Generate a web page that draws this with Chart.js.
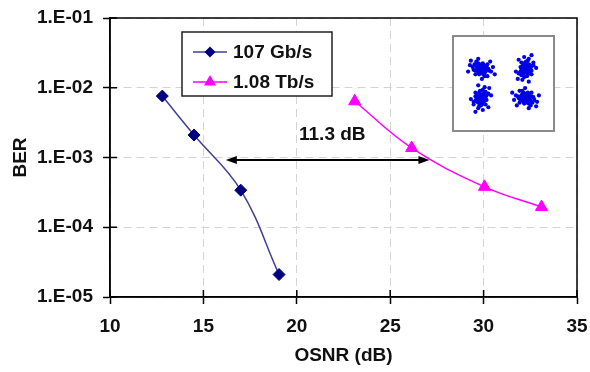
<!DOCTYPE html>
<html><head><meta charset="utf-8">
<script src="https://cdn.jsdelivr.net/npm/chart.js@4/dist/chart.umd.min.js"></script>
<style>
html,body{margin:0;padding:0;background:#fff;}
#wrap{position:relative;width:590px;height:372px;overflow:hidden;}
#main{position:absolute;left:0;top:0;}
#insetBox{position:absolute;left:452px;top:35px;width:103px;height:97px;box-sizing:border-box;border:2px solid #8a8a8a;background:#fff;}
#inset{display:block;}
</style></head><body>
<div id="wrap"><canvas id="main" width="590" height="372"></canvas>
<div id="insetBox"><canvas id="inset" width="99" height="93"></canvas></div></div>
<script>
// ---- data ----
const seriesNames = ['107 Gb/s', '1.08 Tb/s'];
const osnr107 = [12.8, 14.5, 17.0, 19.05];
const ber107  = [7.6e-3, 2.1e-3, 3.4e-4, 2.1e-5];
const osnr108 = [23.1, 26.15, 30.05, 33.1];
const ber108  = [6.4e-3, 1.37e-3, 3.8e-4, 1.95e-4];
const xTicks = [10, 15, 20, 25, 30, 35];
const yTicks = [1e-5, 1e-4, 1e-3, 1e-2, 1e-1];
const yTickLabels = ['1.E-05', '1.E-04', '1.E-03', '1.E-02', '1.E-01'];
const xTitle = 'OSNR (dB)';
const yTitle = 'BER';
const arrowOSNR = [16.2, 27.1];
const arrowBER = 9.2e-4;
const gapLabel = '11.3 dB';
const gapLabelPos = [21.9, 2.1e-3];
// inset constellation (QPSK-like clusters)
const constCenters = [[-24.5, 16], [24.5, 16], [-24.5, -16], [24.5, -16]];
const constFlips = [[1, 1], [-1, 1], [1, -1], [-1, -1]];
const constSwap = [false, true, true, false];
const constOffsets = [[0,0],[2,1],[-2,2],[3,-2],[-3,-1],[1,-3],[-1,3],[5,2],[-5,3],[3,4],[-3,-4],[4,-4],[8,0],[-8,-1],[2,6],[-2,-6],[7,5],[-7,5],[11,-3],[-12,4],[4,-8],[10,8],[-5,8],[2,2],[-1,-2],[4,0],[-4,0],[0,2],[0,-2],[6,-1],[-6,-6],[13,2],[-14,-3],[7,-8],[-3,11],[1,-11],[15,-6],[-11,9],[1,1],[-1,-1],[3,1],[-2,-3],[5,-3],[-4,2],[6,3],[-6,-2],[0,5],[1,-5],[9,-2],[-9,2],[3,-6],[-3,6]];

const FONT = '"Liberation Sans", Arial, sans-serif';
const BLUE_LINE = '#40409a', BLUE_PT = '#000080', MAG = '#ff00ff';

function drawMarker(ctx, style, cx, cy, r, color) {
  ctx.fillStyle = color;
  ctx.beginPath();
  if (style === 'rectRot') {
    ctx.moveTo(cx - r, cy); ctx.lineTo(cx, cy - r); ctx.lineTo(cx + r, cy); ctx.lineTo(cx, cy + r);
  } else {
    const w = r * Math.sqrt(3);
    ctx.moveTo(cx, cy - r); ctx.lineTo(cx + w / 2, cy + r / 2); ctx.lineTo(cx - w / 2, cy + r / 2);
  }
  ctx.closePath(); ctx.fill();
}

const extras = {
  id: 'extras',
  afterDatasetsDraw(c) {
    const {ctx, chartArea: a, scales: {x, y}} = c;
    ctx.save();
    ctx.strokeStyle = '#000'; ctx.lineWidth = 1.5;
    ctx.strokeRect(a.left, a.top, a.right - a.left, a.bottom - a.top);
    ctx.beginPath();
    xTicks.forEach(v => { const px = x.getPixelForValue(v); ctx.moveTo(px, a.bottom); ctx.lineTo(px, a.bottom - 7); });
    yTicks.forEach(v => { const py = y.getPixelForValue(v); ctx.moveTo(a.left, py); ctx.lineTo(a.left + 7, py); });
    ctx.stroke();
    // arrow
    const x1 = x.getPixelForValue(arrowOSNR[0]), x2 = x.getPixelForValue(arrowOSNR[1]), ay = y.getPixelForValue(arrowBER);
    ctx.lineWidth = 2; ctx.beginPath(); ctx.moveTo(x1 + 6, ay); ctx.lineTo(x2 - 6, ay); ctx.stroke();
    ctx.fillStyle = '#000';
    ctx.beginPath(); ctx.moveTo(x1, ay); ctx.lineTo(x1 + 11, ay - 4); ctx.lineTo(x1 + 11, ay + 4); ctx.closePath(); ctx.fill();
    ctx.beginPath(); ctx.moveTo(x2, ay); ctx.lineTo(x2 - 11, ay - 4); ctx.lineTo(x2 - 11, ay + 4); ctx.closePath(); ctx.fill();
    ctx.fillStyle = '#111';
    ctx.font = 'bold 19px ' + FONT; ctx.textAlign = 'center'; ctx.textBaseline = 'middle';
    ctx.fillText(gapLabel, x.getPixelForValue(gapLabelPos[0]), y.getPixelForValue(gapLabelPos[1]));
    // legend
    const bx = a.left + 72, by = a.top + 14, bw = 150, bh = 64;
    ctx.fillStyle = '#fff'; ctx.fillRect(bx, by, bw, bh);
    ctx.strokeStyle = '#222'; ctx.lineWidth = 1.5; ctx.strokeRect(bx, by, bw, bh);
    const ds = c.data.datasets;
    ds.forEach((d, i) => {
      const ry = by + 20 + i * 30;
      ctx.strokeStyle = d.borderColor; ctx.lineWidth = 1.5;
      ctx.beginPath(); ctx.moveTo(bx + 11, ry); ctx.lineTo(bx + 45, ry); ctx.stroke();
      drawMarker(ctx, d.pointStyle, bx + 28, ry, d.pointStyle === 'rectRot' ? 5.5 : 7, d.pointBackgroundColor);
      ctx.fillStyle = '#111'; ctx.textAlign = 'left'; ctx.textBaseline = 'middle';
      ctx.font = 'bold 19px ' + FONT;
      ctx.fillText(d.label, bx + 51, ry + 1);
    });
    ctx.restore();
  }
};

new Chart(document.getElementById('main'), {
  type: 'line',
  data: {
    datasets: [
      { label: seriesNames[0], data: osnr107.map((v, i) => ({x: v, y: ber107[i]})),
        borderColor: BLUE_LINE, backgroundColor: BLUE_PT, pointBackgroundColor: BLUE_PT, pointBorderColor: BLUE_PT,
        pointStyle: 'rectRot', pointRadius: 6, pointBorderWidth: 1, borderWidth: 1.5, tension: 0.4, fill: false },
      { label: seriesNames[1], data: osnr108.map((v, i) => ({x: v, y: ber108[i]})),
        borderColor: MAG, backgroundColor: MAG, pointBackgroundColor: MAG, pointBorderColor: MAG,
        pointStyle: 'triangle', pointRadius: 7, pointBorderWidth: 1, borderWidth: 1.5, tension: 0.4, fill: false }
    ]
  },
  options: {
    responsive: false, animation: false,
    layout: { padding: { left: 0, top: 18, right: 13, bottom: 0 } },
    plugins: { legend: { display: false }, tooltip: { enabled: false } },
    scales: {
      x: {
        type: 'linear', min: 10, max: 35,
        afterBuildTicks: s => { s.ticks = xTicks.map(v => ({value: v})); },
        afterFit: s => { s.height = 75; s.paddingLeft = 0; s.paddingRight = 0; },
        grid: { color: '#d4d4d4', lineWidth: 1, tickLength: 7, tickColor: '#000', tickWidth: 1.5, tickBorderDash: [] },
        border: { display: true, color: '#000', width: 1.5, dash: [8, 5] },
        ticks: { color: '#111', padding: 11, font: { family: FONT, size: 19, weight: 'bold' }, maxRotation: 0 },
        title: { display: true, text: xTitle, color: '#111', font: { family: FONT, size: 19, weight: 'bold' }, padding: { top: 5, bottom: 5 } }
      },
      y: {
        type: 'logarithmic', min: 1e-5, max: 1e-1,
        afterBuildTicks: s => { s.ticks = yTicks.map(v => ({value: v})); },
        afterFit: s => { s.width = 110; s.paddingTop = 0; s.paddingBottom = 0; },
        grid: { color: '#d4d4d4', lineWidth: 1, tickLength: 7, tickColor: '#000', tickWidth: 1.5, tickBorderDash: [] },
        border: { display: true, color: '#000', width: 1.5, dash: [8, 5] },
        ticks: { color: '#111', padding: 10, font: { family: FONT, size: 19, weight: 'bold' },
          callback: (v, i) => yTickLabels[i] },
        title: { display: true, text: yTitle, color: '#111', font: { family: FONT, size: 19, weight: 'bold' }, padding: { top: 9, bottom: 9 } }
      }
    }
  },
  plugins: [extras]
});

// inset constellation
const constPts = [];
constCenters.forEach((c, k) => {
  constOffsets.forEach(o => {
    const ox = constSwap[k] ? o[1] : o[0], oy = constSwap[k] ? o[0] : o[1];
    constPts.push({x: c[0] + ox * constFlips[k][0], y: c[1] + oy * constFlips[k][1]});
  });
});
new Chart(document.getElementById('inset'), {
  type: 'scatter',
  data: { datasets: [{ data: constPts, pointRadius: 2.1, pointBorderWidth: 0, pointBackgroundColor: '#0000e6', backgroundColor: '#0000e6' }] },
  options: {
    responsive: false, animation: false,
    layout: { padding: 0 },
    plugins: { legend: { display: false }, tooltip: { enabled: false } },
    scales: {
      x: { type: 'linear', min: -49.5, max: 49.5, display: false },
      y: { type: 'linear', min: -46.5, max: 46.5, display: false }
    }
  }
});
</script>
</body></html>
